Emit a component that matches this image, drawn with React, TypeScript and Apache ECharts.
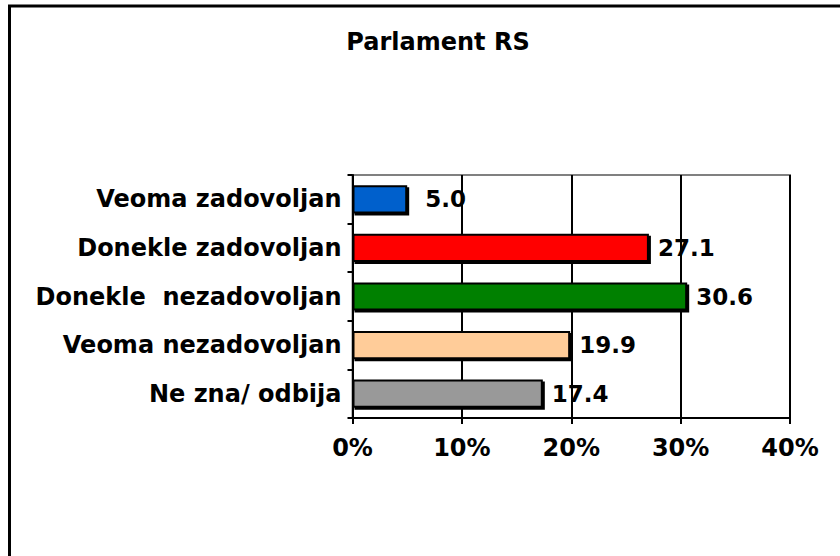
import React, { useEffect, useRef } from "react";
import * as echarts from "echarts";

const categories = [
  "Veoma zadovoljan",
  "Donekle zadovoljan",
  "Donekle  nezadovoljan",
  "Veoma nezadovoljan",
  "Ne zna/ odbija",
];
const values = [5.0, 27.1, 30.6, 19.9, 17.4];
const colors = ["#0060CC", "#FF0000", "#008000", "#FFCC99", "#999999"];
const xTicks = [0, 10, 20, 30, 40];

const FONT = "DejaVu Sans, Verdana, sans-serif";

export default function App() {
  const ref = useRef<HTMLDivElement>(null);
  useEffect(() => {
    if (!ref.current) return;
    const chart = echarts.init(ref.current, null, { renderer: "svg" });
    chart.setOption({
      animation: false,
      backgroundColor: "#ffffff",
      title: {
        text: "Parlament RS",
        left: 433,
        top: 25,
        textAlign: "center",
        textStyle: { fontFamily: FONT, fontWeight: "bold", fontSize: 24, color: "#000" },
      },
      graphic: [
        {
          type: "rect",
          shape: { x: 9.5, y: 6, width: 900, height: 700 },
          style: { fill: "none", stroke: "#000", lineWidth: 3 },
          silent: true,
        },
      ],
      grid: {
        left: 352.5,
        right: 50,
        top: 175,
        bottom: 138,
        show: true,
        borderColor: "#808080",
        borderWidth: 2,
        backgroundColor: "transparent",
      },
      xAxis: {
        type: "value",
        min: xTicks[0],
        max: xTicks[xTicks.length - 1],
        interval: 10,
        axisLine: { show: true, lineStyle: { color: "#000", width: 2 } },
        axisTick: { show: true, length: 6, lineStyle: { color: "#000", width: 2 } },
        splitLine: { show: true, lineStyle: { color: "#000", width: 2 } },
        axisLabel: {
          formatter: "{value}%",
          fontFamily: FONT,
          fontWeight: "bold",
          fontSize: 24,
          color: "#000",
          margin: 18,
        },
      },
      yAxis: {
        type: "category",
        data: categories,
        inverse: true,
        axisLine: { show: true, lineStyle: { color: "#000", width: 2 } },
        axisTick: { show: true, length: 5, lineStyle: { color: "#000", width: 2 } },
        axisLabel: {
          fontFamily: FONT,
          fontWeight: "bold",
          fontSize: 24,
          color: "#000",
          margin: 11,
        },
      },
      series: [
        {
          type: "bar",
          data: values.map((v, i) => ({
            value: v,
            itemStyle: { color: colors[i] },
            label: i === 0 ? { distance: 18 } : undefined,
          })),
          barWidth: "58%",
          itemStyle: {
            borderColor: "#000",
            borderWidth: 2,
            shadowColor: "#000",
            shadowOffsetX: 2,
            shadowOffsetY: 2,
            shadowBlur: 0,
          },
          label: {
            show: true,
            position: "right",
            distance: 9,
            formatter: (p: any) => Number(p.value).toFixed(1),
            fontFamily: FONT,
            fontWeight: "bold",
            fontSize: 23,
            color: "#000",
          },
        },
      ],
    });
    return () => chart.dispose();
  }, []);
  return (
    <div
      ref={ref}
      style={{ position: "fixed", left: 0, top: 0, width: 840, height: 556 }}
    />
  );
}
